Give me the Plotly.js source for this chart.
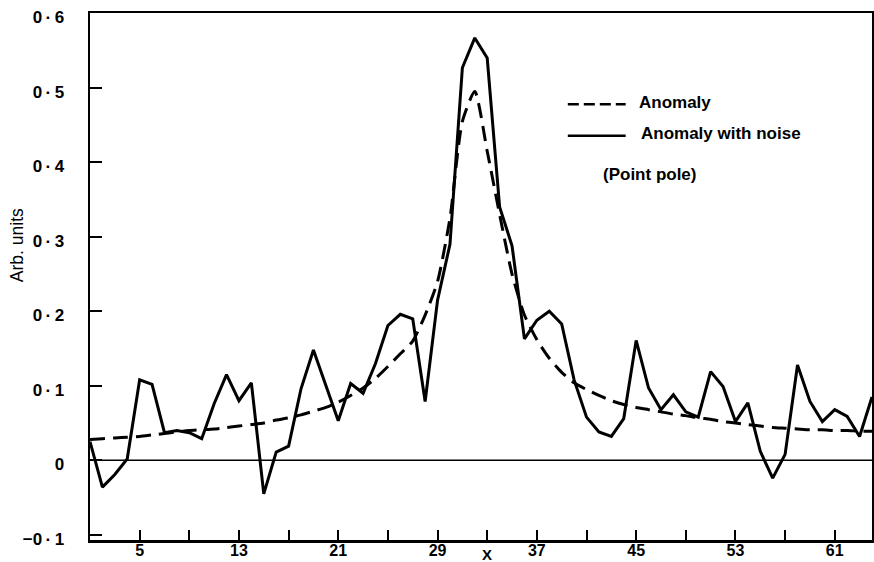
<!DOCTYPE html>
<html>
<head>
<meta charset="utf-8">
<script src="https://cdn.plot.ly/plotly-3.0.1.min.js"></script>
<style>
  html, body { margin: 0; padding: 0; background: #fff; }
  #chart { width: 874px; height: 562px; }
</style>
</head>
<body>
<div id="chart"></div>
<script>
// Profile sample positions
const xPos = [1, 2, 3, 4, 5, 6, 7, 8, 9, 10, 11, 12, 13, 14, 15, 16,
  17, 18, 19, 20, 21, 22, 23, 24, 25, 26, 27, 28, 29, 30, 31, 32,
  33, 34, 35, 36, 37, 38, 39, 40, 41, 42, 43, 44, 45, 46, 47, 48,
  49, 50, 51, 52, 53, 54, 55, 56, 57, 58, 59, 60, 61, 62, 63, 64];

// Point-pole anomaly (noise free)
const anomaly = [0.028, 0.029, 0.030, 0.031, 0.032, 0.034, 0.036, 0.038,
  0.040, 0.041, 0.042, 0.044, 0.046, 0.048, 0.050, 0.054,
  0.057, 0.061, 0.066, 0.071, 0.078, 0.087, 0.097, 0.110,
  0.126, 0.143, 0.160, 0.195, 0.240, 0.325, 0.455, 0.495,
  0.415, 0.330, 0.250, 0.195, 0.162, 0.137, 0.118, 0.104,
  0.095, 0.087, 0.080, 0.075, 0.071, 0.068, 0.065, 0.062,
  0.060, 0.057, 0.055, 0.052, 0.050, 0.048, 0.046, 0.044,
  0.043, 0.042, 0.041, 0.041, 0.040, 0.040, 0.039, 0.039];

// Same anomaly with added noise
const anomalyNoise = [0.025, -0.036, -0.019, 0.002, 0.108, 0.102, 0.037, 0.040,
  0.037, 0.029, 0.076, 0.115, 0.080, 0.104, -0.045, 0.011,
  0.019, 0.096, 0.148, 0.100, 0.053, 0.103, 0.090, 0.130,
  0.181, 0.196, 0.190, 0.079, 0.215, 0.290, 0.527, 0.567,
  0.540, 0.340, 0.288, 0.163, 0.188, 0.200, 0.183, 0.108,
  0.058, 0.038, 0.032, 0.056, 0.161, 0.097, 0.068, 0.088,
  0.065, 0.058, 0.119, 0.099, 0.052, 0.077, 0.012, -0.024,
  0.008, 0.128, 0.079, 0.052, 0.068, 0.059, 0.032, 0.085];

// Axis ticks
const xTickVals = [5, 9, 13, 17, 21, 25, 29, 33, 37, 41, 45, 49, 53, 57, 61];
const xTickText = ['5', '', '13', '', '21', '', '29', '', '37', '', '45', '', '53', '', '61'];
const yTickVals = [-0.1, 0, 0.1, 0.2, 0.3, 0.4, 0.5, 0.6];
const yTickText = ['\u22120\u2009·\u20091', '0', '0\u2009·\u20091', '0\u2009·\u20092', '0\u2009·\u20093',
  '0\u2009·\u20094', '0\u2009·\u20095', '0\u2009·\u20096'];

const FONT = 'Liberation Sans, Arial, sans-serif';

const traces = [
  {
    x: xPos, y: anomaly, type: 'scatter', mode: 'lines', name: 'Anomaly',
    line: { color: '#000', width: 3, dash: '15px,8px', shape: 'spline', smoothing: 0.6 },
    hoverinfo: 'skip'
  },
  {
    x: xPos, y: anomalyNoise, type: 'scatter', mode: 'lines', name: 'Anomaly with noise',
    line: { color: '#000', width: 3 },
    hoverinfo: 'skip'
  }
];

const layout = {
  width: 874, height: 562,
  margin: { l: 90, r: 2, t: 13, b: 22 },
  paper_bgcolor: '#fff', plot_bgcolor: '#fff',
  showlegend: false,
  font: { family: FONT, color: '#000' },
  xaxis: {
    range: [1, 64], tickvals: xTickVals, ticktext: xTickText,
    ticks: 'inside', ticklen: 10, tickwidth: 2, tickcolor: '#000',
    showline: true, linewidth: 2.5, linecolor: '#000', mirror: true,
    showgrid: false, zeroline: false,
    tickfont: { family: FONT, size: 16, weight: 'bold', color: '#000' },
    ticklabelstandoff: -6
  },
  yaxis: {
    range: [-0.107, 0.6005], tickvals: yTickVals, ticktext: yTickText,
    ticks: 'inside', ticklen: 12, tickwidth: 2, tickcolor: '#000',
    showline: true, linewidth: 2.5, linecolor: '#000', mirror: true,
    showgrid: false, zeroline: false,
    tickfont: { family: FONT, size: 17, weight: 'bold', color: '#000' },
    ticklabelstandoff: 20, ticklabelshift: 4
  },
  shapes: [
    // zero reference line
    { type: 'line', xref: 'x', yref: 'y', x0: 1, x1: 64, y0: 0, y1: 0,
      line: { color: '#000', width: 1.6 } },
    // key samples
    { type: 'line', xref: 'paper', yref: 'paper', x0: 0.611, x1: 0.685, y0: 0.827, y1: 0.827,
      line: { color: '#000', width: 2.5, dash: '11px,5px' } },
    { type: 'line', xref: 'paper', yref: 'paper', x0: 0.611, x1: 0.685, y0: 0.767, y1: 0.767,
      line: { color: '#000', width: 2.5 } }
  ],
  annotations: [
    { text: 'Anomaly', xref: 'paper', yref: 'paper', x: 0.700, y: 0.831,
      xanchor: 'left', yanchor: 'middle', showarrow: false,
      font: { family: FONT, size: 17, weight: 'bold', color: '#000' } },
    { text: 'Anomaly with noise', xref: 'paper', yref: 'paper', x: 0.702, y: 0.772,
      xanchor: 'left', yanchor: 'middle', showarrow: false,
      font: { family: FONT, size: 17, weight: 'bold', color: '#000' } },
    { text: '(Point pole)', xref: 'paper', yref: 'paper', x: 0.653, y: 0.693,
      xanchor: 'left', yanchor: 'middle', showarrow: false,
      font: { family: FONT, size: 17, weight: 'bold', color: '#000' } },
    { text: 'X', xref: 'paper', yref: 'paper', x: 0.508, y: -0.027,
      xanchor: 'center', yanchor: 'middle', showarrow: false,
      font: { family: FONT, size: 15, weight: 'bold', color: '#000' } },
    { text: 'Arb. units', xref: 'paper', yref: 'paper', x: -0.093, y: 0.56,
      xanchor: 'center', yanchor: 'middle', showarrow: false, textangle: -90,
      font: { family: FONT, size: 17.5, color: '#000' } }
  ]
};

Plotly.newPlot('chart', traces, layout, { displayModeBar: false, staticPlot: true });
</script>
</body>
</html>
